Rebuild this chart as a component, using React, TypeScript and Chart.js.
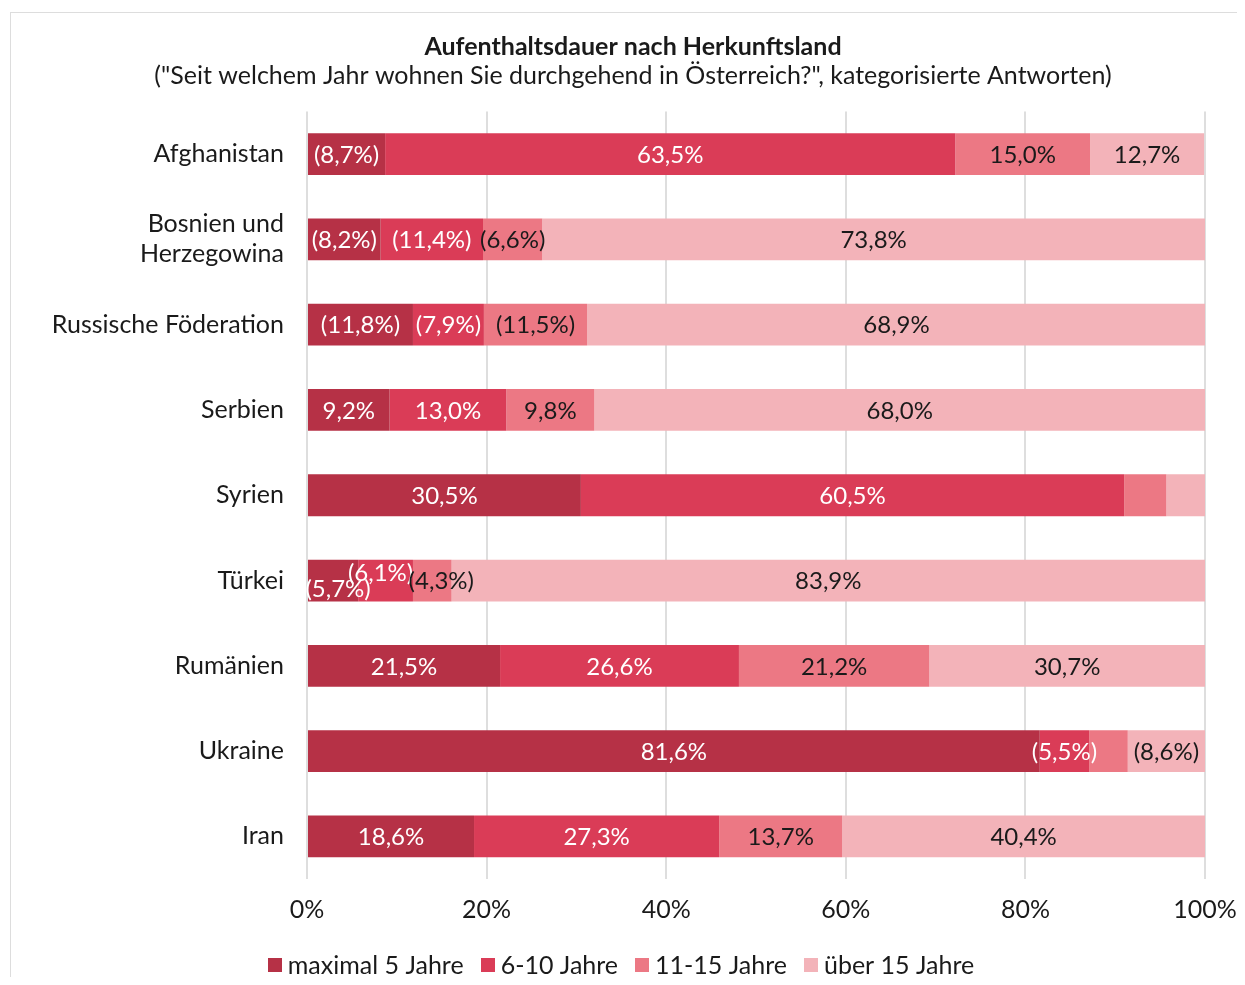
import React, { useEffect, useRef } from "react";
import { Chart, registerables } from "chart.js";
Chart.register(...registerables);

const categories: (string | string[])[] = [
  "Afghanistan",
  ["Bosnien und", "Herzegowina"],
  "Russische Föderation",
  "Serbien",
  "Syrien",
  "Türkei",
  "Rumänien",
  "Ukraine",
  "Iran",
];
const seriesNames = ["maximal 5 Jahre", "6-10 Jahre", "11-15 Jahre", "über 15 Jahre"];
const max5 = [8.7, 8.2, 11.8, 9.2, 30.5, 5.7, 21.5, 81.6, 18.6];
const y6to10 = [63.5, 11.4, 7.9, 13.0, 60.5, 6.1, 26.6, 5.5, 27.3];
const y11to15 = [15.0, 6.6, 11.5, 9.8, 4.7, 4.3, 21.2, 4.3, 13.7];
const over15 = [12.7, 73.8, 68.9, 68.0, 4.3, 83.9, 30.7, 8.6, 40.4];
// low sample size -> value shown in brackets
const bracketMax5 = [true, true, true, false, false, true, false, false, false];
const bracket6to10 = [false, true, true, false, false, true, false, true, false];
const bracket11to15 = [false, true, true, false, false, true, false, false, false];
const bracketOver15 = [false, false, false, false, false, false, false, true, false];
// value labels not printed
const hiddenMax5 = [false, false, false, false, false, false, false, false, false];
const hidden6to10 = [false, false, false, false, false, false, false, false, false];
const hidden11to15 = [false, false, false, false, true, false, false, true, false];
const hiddenOver15 = [false, false, false, false, true, false, false, false, false];
const xTicks = [0, 20, 40, 60, 80, 100];

const seriesValues = [max5, y6to10, y11to15, over15];
const seriesBrackets = [bracketMax5, bracket6to10, bracket11to15, bracketOver15];
const seriesHidden = [hiddenMax5, hidden6to10, hidden11to15, hiddenOver15];
const seriesColors = ["#b63146", "#da3c57", "#ec7884", "#f3b3b9"];
const labelColors = ["#ffffff", "#ffffff", "#1a1a1a", "#1a1a1a"];

const FONT = "Lato";
const TEXT = "#1a1a1a";
const FS = 25;

const fmt = (v: number, br: boolean) => {
  const s = v.toFixed(1).replace(".", ",") + "%";
  return br ? "(" + s + ")" : s;
};

const segLabels = {
  id: "segLabels",
  afterDatasetsDraw(chart: any) {
    const ctx = chart.ctx;
    ctx.save();
    ctx.font = `24px ${FONT}`;
    ctx.textAlign = "center";
    ctx.textBaseline = "middle";
    for (let i = 0; i < categories.length; i++) {
      const items: any[] = [];
      chart.data.datasets.forEach((ds: any, d: number) => {
        if (seriesHidden[d][i]) return;
        const el = chart.getDatasetMeta(d).data[i];
        if (!el) return;
        const c = el.getCenterPoint();
        const text = fmt(seriesValues[d][i], seriesBrackets[d][i]);
        const w = ctx.measureText(text).width;
        items.push({ x: c.x, y: c.y, text, w, d, dx: 0, dy: 0 });
      });
      for (let k = 1; k < items.length; k++) {
        const a = items[k - 1];
        const b = items[k];
        if (a.dy === 0 && a.x + a.w / 2 > b.x - b.w / 2) {
          a.dy = 8;
          a.dx = 5;
          b.dy = -8;
          b.dx = -5;
          const c = items[k + 1];
          if (c) c.dx = 9;
        }
      }
      items.forEach((it) => {
        ctx.fillStyle = labelColors[it.d];
        ctx.fillText(it.text, it.x + it.dx, it.y + it.dy + 1);
      });
    }
    ctx.restore();
  },
};

const customLegend = {
  id: "customLegend",
  afterDraw(chart: any) {
    const ctx = chart.ctx;
    ctx.save();
    ctx.font = `${FS}px ${FONT}`;
    ctx.textBaseline = "middle";
    ctx.textAlign = "left";
    const box = 14;
    const gapText = 6;
    const gapItem = 17;
    const widths = seriesNames.map((n) => ctx.measureText(n).width);
    const total =
      widths.reduce((a, w) => a + box + gapText + w, 0) + gapItem * (seriesNames.length - 1);
    let x = chart.width / 2 - 12 - total / 2;
    const y = chart.height - 12;
    seriesNames.forEach((n, i) => {
      ctx.fillStyle = seriesColors[i];
      ctx.fillRect(Math.round(x), Math.round(y - box / 2), box, box);
      ctx.fillStyle = TEXT;
      ctx.fillText(n, x + box + gapText, y + 1);
      x += box + gapText + widths[i] + gapItem;
    });
    ctx.restore();
  },
};

export default function App() {
  const ref = useRef<HTMLCanvasElement | null>(null);
  useEffect(() => {
    if (!ref.current) return;
    const chart = new Chart(ref.current, {
      type: "bar",
      data: {
        labels: categories as any,
        datasets: seriesNames.map((name, d) => ({
          label: name,
          data: seriesValues[d],
          backgroundColor: seriesColors[d],
          borderWidth: 0,
          categoryPercentage: 1,
          barPercentage: 0.49,
        })),
      },
      options: {
        indexAxis: "y",
        responsive: false,
        animation: false,
        devicePixelRatio: 1,
        layout: { padding: { top: 0, right: 0, bottom: 40, left: 0 } },
        scales: {
          x: {
            stacked: true,
            min: 0,
            max: 100,
            afterBuildTicks: (scale: any) => {
              scale.ticks = xTicks.map((v) => ({ value: v }));
            },
            afterFit: (scale: any) => {
              scale.height = 58;
              scale.paddingLeft = 0;
              scale.paddingRight = 50;
            },
            grid: { color: "#dedede", lineWidth: 2, drawTicks: false },
            border: { display: false },
            ticks: {
              padding: 16,
              color: TEXT,
              font: { family: FONT, size: FS },
              callback: (v: any) => v + "%",
            },
          },
          y: {
            stacked: true,
            afterFit: (scale: any) => {
              scale.width = 296;
              scale.paddingTop = 0;
              scale.paddingBottom = 0;
            },
            grid: { display: false, drawTicks: false },
            border: { display: false },
            ticks: {
              padding: 23,
              color: TEXT,
              font: { family: FONT, size: FS, lineHeight: 1.2 },
            },
          },
        },
        plugins: {
          title: {
            display: true,
            text: "Aufenthaltsdauer nach Herkunftsland",
            color: TEXT,
            font: { family: FONT, size: FS, weight: "bold", lineHeight: 1 },
            padding: { top: 21.5, bottom: 2 },
          },
          subtitle: {
            display: true,
            text: '("Seit welchem Jahr wohnen Sie durchgehend in Österreich?", kategorisierte Antworten)',
            color: TEXT,
            font: { family: FONT, size: FS, lineHeight: 1 },
            padding: { top: 2, bottom: 23 },
          },
          legend: { display: false },
          tooltip: { enabled: false },
        },
      },
      plugins: [segLabels, customLegend],
    } as any);
    return () => chart.destroy();
  }, []);

  return (
    <div style={{ paddingTop: 4 }}>
      <div
        style={{
          marginLeft: 2,
          marginRight: -8,
          borderTop: "1px solid #dddddd",
          borderLeft: "1px solid #dddddd",
          overflow: "hidden",
          height: 964,
        }}
      >
        <canvas ref={ref} width={1244} height={964} style={{ display: "block", width: 1244, height: 964 }} />
      </div>
    </div>
  );
}
